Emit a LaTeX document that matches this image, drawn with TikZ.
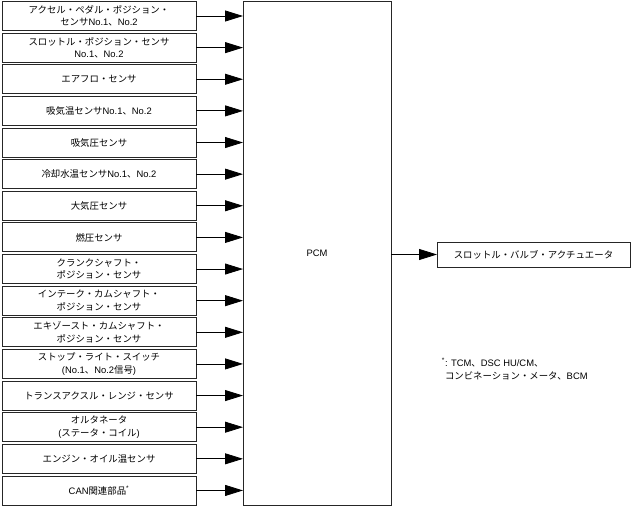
\documentclass[tikz,border=0pt]{standalone}
\usepackage{fontspec}
\setmainfont{Noto Sans CJK JP}
\newfontfamily\lat{Liberation Sans}
\newcommand{\La}[1]{{\lat #1}}
\usetikzlibrary{arrows.meta}
\begin{document}
\begin{tikzpicture}[x=1pt,y=-1pt,
  every node/.style={inner sep=0pt, outer sep=0pt},
  inbox/.style={draw=black!85, line width=0.9pt, minimum width=194pt, minimum height=29pt, align=center, font=\fontsize{9.4}{12.5}\selectfont},
  pcmbox/.style={draw=black!85, line width=0.9pt, minimum width=148pt, minimum height=504pt},
  outbox/.style={draw=black!85, line width=0.9pt, minimum width=193pt, minimum height=25pt, font=\fontsize{9.4}{12.5}\selectfont},
  conn/.style={line width=0.8pt, -{Triangle[length=18pt,width=11pt]}},
  note/.style={align=left, anchor=west, font=\fontsize{9.4}{13.5}\selectfont}
]
\useasboundingbox (0,0) rectangle (634,508);
\node[pcmbox] (pcm) at (317,253) {};
\node[font=\fontsize{9.4}{12}\selectfont] (pcmlabel) at (317,253) {\La{PCM}};
\foreach \i/\t in {
  0/{アクセル・ペダル・ポジション・\\センサ\La{No.1}、\La{No.2}},
  1/{スロットル・ポジション・センサ\\\La{No.1}、\La{No.2}},
  2/{エアフロ・センサ},
  3/{吸気温センサ\La{No.1}、\La{No.2}},
  4/{吸気圧センサ},
  5/{冷却水温センサ\La{No.1}、\La{No.2}},
  6/{大気圧センサ},
  7/{燃圧センサ},
  8/{クランクシャフト・\\ポジション・センサ},
  9/{インテーク・カムシャフト・\\ポジション・センサ},
  10/{エキゾースト・カムシャフト・\\ポジション・センサ},
  11/{ストップ・ライト・スイッチ\\\La{(No.1}、\La{No.2}信号\La{)}},
  12/{トランスアクスル・レンジ・センサ},
  13/{オルタネータ\\\La{(}ステータ・コイル\La{)}},
  14/{エンジン・オイル温センサ},
  15/{\La{CAN}関連部品\textsuperscript{\La{*}}}}
{
  \node[inbox] (in\i) at (99,{16+\i*31.63}) {\t};
  \coordinate (t\i) at (243,{16+\i*31.63});
  \draw[conn] (in\i.east) -- (t\i);
}
\node[outbox] (act) at (533.5,254.5) {スロットル・バルブ・アクチュエータ};
\coordinate (pcmout) at (391,254.5);
\draw[conn] (pcmout) -- (act.west);
\node[note] (fn) at (445,369) {\llap{\textsuperscript{\La{*}}}\La{: TCM}、\La{DSC HU/CM}、\\コンビネーション・メータ、\La{BCM}};
\end{tikzpicture}
\end{document}
